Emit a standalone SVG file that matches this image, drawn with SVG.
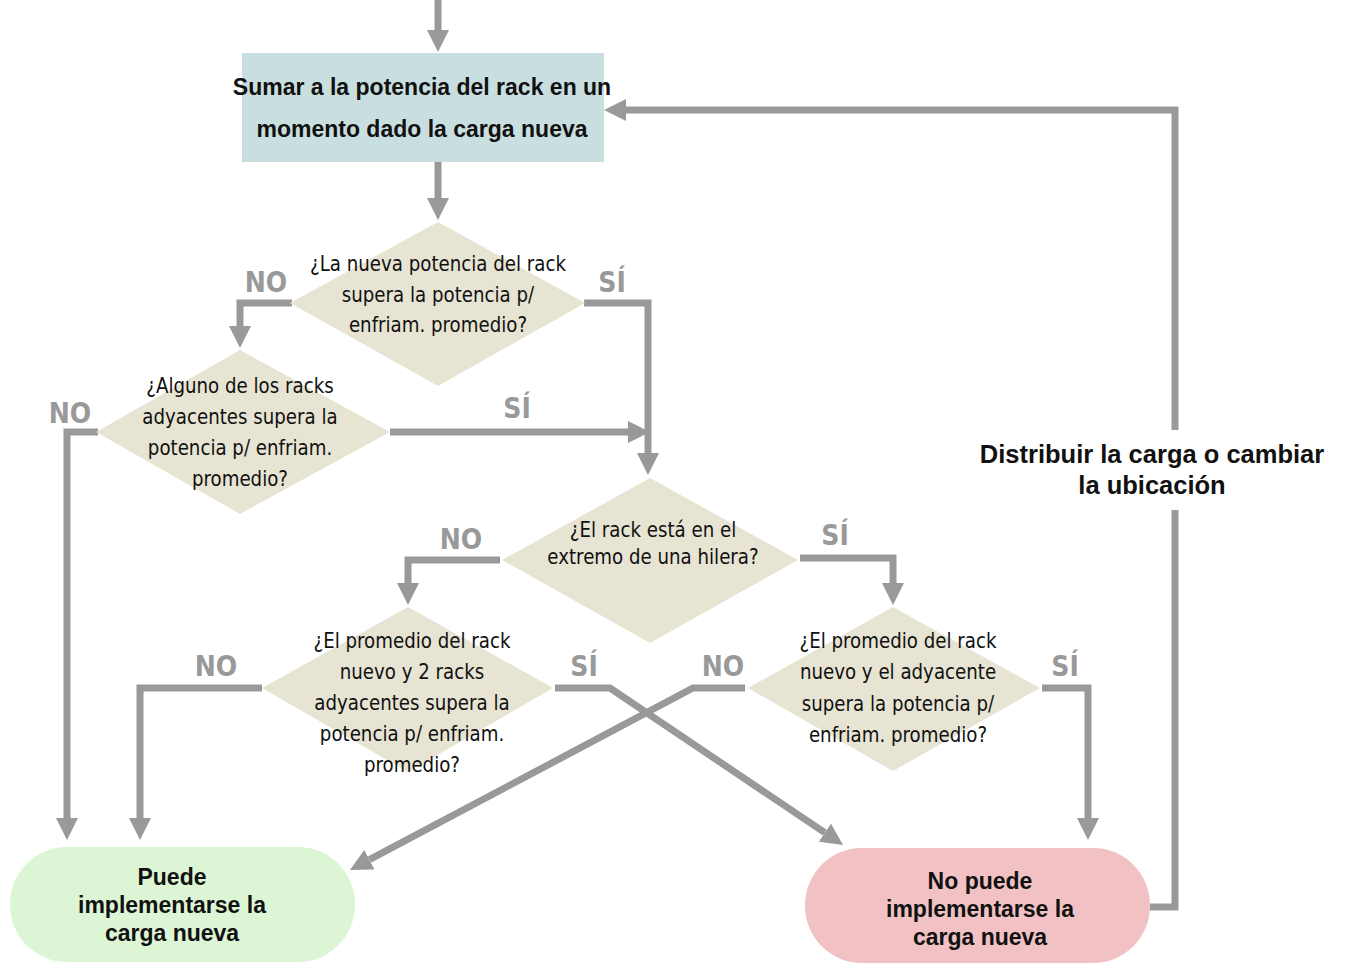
<svg xmlns="http://www.w3.org/2000/svg" width="1346" height="963" viewBox="0 0 1346 963">
<style>
.conn{fill:none;stroke:#999999;stroke-width:7;stroke-linejoin:miter;stroke-linecap:butt}
.dia{fill:#e7e4d3}
.q{font-family:"DejaVu Sans Condensed","Liberation Sans",sans-serif;font-stretch:condensed;font-size:22px;fill:#111;text-anchor:middle}
.b{font-family:"Liberation Sans",Arial,sans-serif;font-weight:bold;font-size:23px;fill:#111;text-anchor:middle}
.lbl{font-family:"DejaVu Sans Condensed","Liberation Sans",sans-serif;font-stretch:condensed;font-weight:bold;font-size:28px;fill:#999999;text-anchor:middle}
</style>
<defs>
<marker id="ah" markerUnits="userSpaceOnUse" markerWidth="24" markerHeight="22" viewBox="0 0 24 22" refX="0" refY="11" orient="auto">
<path d="M0 0 L22 11 L0 22 Z" fill="#999999"/>
</marker>
</defs>
<rect width="1346" height="963" fill="#ffffff"/>

<g id="connectors">
<path class="conn" d="M438 0 V30" marker-end="url(#ah)"/>
<path class="conn" d="M438 162 V198" marker-end="url(#ah)"/>
<path class="conn" d="M292 303 H240 V326" marker-end="url(#ah)"/>
<path class="conn" d="M584 303 H648 V453" marker-end="url(#ah)"/>
<path class="conn" d="M390 432 H628" marker-end="url(#ah)"/>
<path class="conn" d="M98 432 H67 V818" marker-end="url(#ah)"/>
<path class="conn" d="M500 560 H408 V583" marker-end="url(#ah)"/>
<path class="conn" d="M800 558 H893 V583" marker-end="url(#ah)"/>
<path class="conn" d="M262 688 H140 V818" marker-end="url(#ah)"/>
<path class="conn" d="M555 688 H610 L824.8 832.7" marker-end="url(#ah)"/>
<path class="conn" d="M745 688 H693 L369.4 859.7" marker-end="url(#ah)"/>
<path class="conn" d="M1042 688 H1088 V818" marker-end="url(#ah)"/>
<path class="conn" d="M1150 907 H1175 V510"/>
<path class="conn" d="M1175 430 V110 H626" marker-end="url(#ah)"/>
<text class="lbl" x="266" y="292">NO</text>
<text class="lbl" x="612" y="292">SÍ</text>
<text class="lbl" x="70" y="423">NO</text>
<text class="lbl" x="517" y="418">SÍ</text>
<text class="lbl" x="461" y="549">NO</text>
<text class="lbl" x="835" y="545">SÍ</text>
<text class="lbl" x="216" y="676">NO</text>
<text class="lbl" x="584" y="676">SÍ</text>
<text class="lbl" x="723" y="676">NO</text>
<text class="lbl" x="1065" y="676">SÍ</text>
<text class="b" x="1152" y="463" style="font-size:25.5px">Distribuir la carga o cambiar</text>
<text class="b" x="1152" y="494" style="font-size:25.5px">la ubicación</text>
</g>

<g id="start">
<rect x="242" y="53" width="362" height="109" fill="#c9dfdf"/>
<text class="b" x="422" y="95">Sumar a la potencia del rack en un</text>
<text class="b" x="422" y="137">momento dado la carga nueva</text>
</g>

<g id="d1">
<polygon class="dia" points="438,222 585,303 438,386 290,303"/>
<g transform="translate(438 0) scale(0.92 1)">
<text class="q" x="0" y="271">¿La nueva potencia del rack</text>
<text class="q" x="0" y="302">supera la potencia p/</text>
<text class="q" x="0" y="332">enfriam. promedio?</text>
</g>
</g>

<g id="d2">
<polygon class="dia" points="240,350 390,432 240,514 96,432"/>
<g transform="translate(240 0) scale(0.92 1)">
<text class="q" x="0" y="393">¿Alguno de los racks</text>
<text class="q" x="0" y="424">adyacentes supera la</text>
<text class="q" x="0" y="455">potencia p/ enfriam.</text>
<text class="q" x="0" y="486">promedio?</text>
</g>
</g>

<g id="d3">
<polygon class="dia" points="650,478 798,560 650,643 502,560"/>
<g transform="translate(653 0) scale(0.92 1)">
<text class="q" x="0" y="537">¿El rack está en el</text>
<text class="q" x="0" y="564">extremo de una hilera?</text>
</g>
</g>

<g id="d4">
<polygon class="dia" points="408,607 553,688 408,772 262,688"/>
<g transform="translate(412 0) scale(0.92 1)">
<text class="q" x="0" y="648">¿El promedio del rack</text>
<text class="q" x="0" y="679">nuevo y 2 racks</text>
<text class="q" x="0" y="710">adyacentes supera la</text>
<text class="q" x="0" y="741">potencia p/ enfriam.</text>
<text class="q" x="0" y="772">promedio?</text>
</g>
</g>

<g id="d5">
<polygon class="dia" points="893,607 1040,688 893,771 748,688"/>
<g transform="translate(898 0) scale(0.92 1)">
<text class="q" x="0" y="648">¿El promedio del rack</text>
<text class="q" x="0" y="679">nuevo y el adyacente</text>
<text class="q" x="0" y="711">supera la potencia p/</text>
<text class="q" x="0" y="742">enfriam. promedio?</text>
</g>
</g>

<g id="yes">
<rect x="10" y="847" width="345" height="115" rx="57" ry="57" fill="#dcf5d5"/>
<text class="b" x="172" y="885">Puede</text>
<text class="b" x="172" y="913">implementarse la</text>
<text class="b" x="172" y="941">carga nueva</text>
</g>

<g id="no">
<rect x="805" y="848" width="345" height="115" rx="57" ry="57" fill="#f1c1c3"/>
<text class="b" x="980" y="889">No puede</text>
<text class="b" x="980" y="917">implementarse la</text>
<text class="b" x="980" y="945">carga nueva</text>
</g>
</svg>
